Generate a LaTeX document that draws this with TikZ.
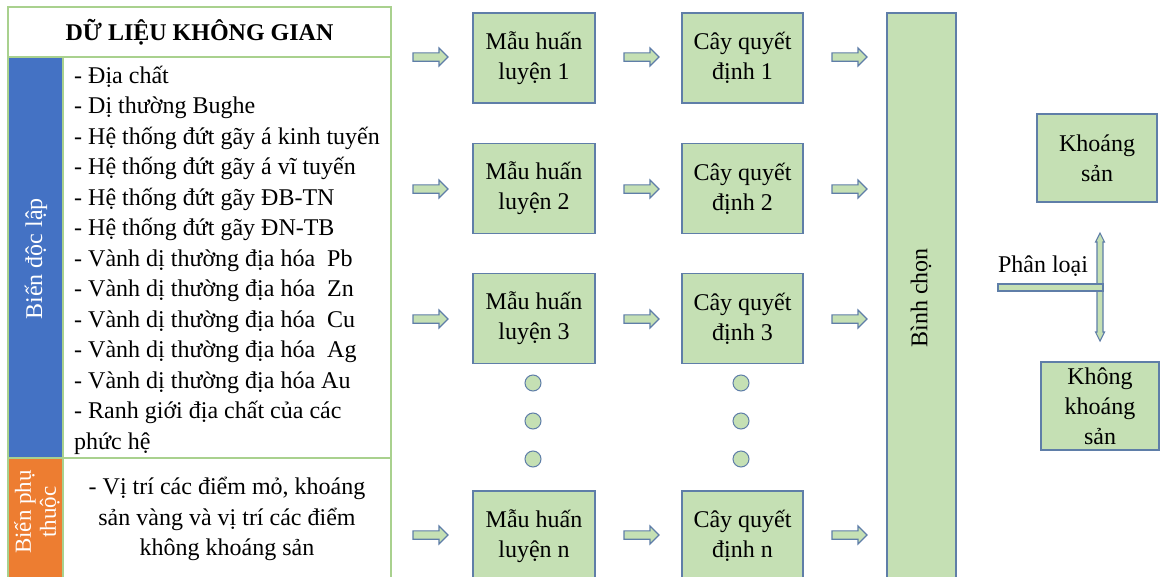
\documentclass[tikz,border=0pt]{standalone}
\usepackage{fontspec}
\setmainfont{Liberation Serif}
\definecolor{boxfill}{HTML}{C5E0B4}
\definecolor{boxline}{HTML}{5F7EA8}
\definecolor{gridline}{HTML}{A9D18E}
\definecolor{bluecell}{HTML}{4472C4}
\definecolor{orangecell}{HTML}{ED7D31}
\begin{document}
\begin{tikzpicture}[x=1pt,y=-1pt,
  every node/.style={font=\fontsize{24}{30}\selectfont, text=black},
  cell/.style={draw=gridline, line width=1.5pt, inner sep=0pt, rectangle},
  gbox/.style={draw=boxline, fill=boxfill, line width=1.3pt, inner sep=0pt, align=center, minimum width=122pt, minimum height=90pt},
  dotc/.style={circle, draw=boxline, fill=boxfill, line width=1pt, minimum size=16pt, inner sep=0pt},
  arrshape/.style={draw=boxline, fill=boxfill, line width=1.1pt, line join=miter},
  listitem/.style={anchor=base west, inner sep=0pt},
  rarrow/.pic={\path[arrshape] (-17.5,-4.2) -- (8.5,-4.2) -- (8.5,-9) -- (17.5,0) -- (8.5,9) -- (8.5,4.2) -- (-17.5,4.2) -- cycle;}
]
\useasboundingbox (0,0) rectangle (1160,576);
\clip (0,0) rectangle (1160,576);
\fill[white] (0,0) rectangle (1160,576);

% left table
\node[cell, fill=white, minimum width=383pt, minimum height=50pt, font=\bfseries\fontsize{24}{30}\selectfont] (hdr) at (199.5,32) {DỮ LIỆU KHÔNG GIAN};
\node[cell, fill=bluecell, minimum width=55pt, minimum height=401pt] (indep) at (35.5,257.5) {};
\node[cell, fill=white, minimum width=328pt, minimum height=401pt] (list) at (227,257.5) {};
\node[cell, fill=orangecell, minimum width=55pt, minimum height=140pt] (dep) at (35.5,528) {};
\node[cell, fill=white, minimum width=328pt, minimum height=140pt] (deptext) at (227,528) {};

\node[rotate=90, text=white, inner sep=0pt] (indeplabel) at (36,259) {Biến độc lập};
\node[rotate=90, text=white, inner sep=0pt, align=center, font=\fontsize{23}{25}\selectfont] (deplabel) at (37,512) {Biến phụ\\thuộc};

\node[listitem] (l1) at (74,83) {- Địa chất};
\node[listitem] (l2) at (74,113.5) {- Dị thường Bughe};
\node[listitem] (l3) at (74,144) {- Hệ thống đứt gãy á kinh tuyến};
\node[listitem] (l4) at (74,174.5) {- Hệ thống đứt gãy á vĩ tuyến};
\node[listitem] (l5) at (74,205) {- Hệ thống đứt gãy ĐB-TN};
\node[listitem] (l6) at (74,235.5) {- Hệ thống đứt gãy ĐN-TB};
\node[listitem] (l7) at (74,266) {- Vành dị thường địa hóa\ \ Pb};
\node[listitem] (l8) at (74,296.5) {- Vành dị thường địa hóa\ \ Zn};
\node[listitem] (l9) at (74,327) {- Vành dị thường địa hóa\ \ Cu};
\node[listitem] (l10) at (74,357.5) {- Vành dị thường địa hóa\ \ Ag};
\node[listitem] (l11) at (74,388) {- Vành dị thường địa hóa Au};
\node[listitem] (l12) at (74,418.5) {- Ranh giới địa chất của các};
\node[listitem] (l13) at (74,449) {phức hệ};

\node[align=center, inner sep=0pt, font=\fontsize{24}{30.5}\selectfont] (deptxt) at (227,519) {- Vị trí các điểm mỏ, khoáng\\sản vàng và vị trí các điểm\\không khoáng sản};

% training samples and trees
\node[gbox] (m1) at (534,58) {Mẫu huấn\\luyện 1};
\node[gbox] (m2) at (534,188.5) {Mẫu huấn\\luyện 2};
\node[gbox] (m3) at (534,318.5) {Mẫu huấn\\luyện 3};
\node[gbox] (mn) at (534,536) {Mẫu huấn\\luyện n};
\node[gbox, minimum width=121pt] (c1) at (742.5,58) {Cây quyết\\định 1};
\node[gbox, minimum width=121pt] (c2) at (742.5,188.5) {Cây quyết\\định 2};
\node[gbox, minimum width=121pt] (c3) at (742.5,318.5) {Cây quyết\\định 3};
\node[gbox, minimum width=121pt] (cn) at (742.5,536) {Cây quyết\\định n};

\foreach \yy/\nm in {383/a,421/b,459/c}{
  \node[dotc] (md\nm) at (533,\yy) {};
  \node[dotc] (cd\nm) at (741,\yy) {};
}

% vote box
\node[gbox, minimum width=69pt, minimum height=600pt] (vote) at (921.5,313) {};
\node[rotate=90, inner sep=0pt] (votetext) at (921,298) {Bình chọn};

% arrows
\foreach \yy in {57,189,319,535}{
  \pic at (430.5,\yy) {rarrow};
  \pic at (641.5,\yy) {rarrow};
  \pic at (849.5,\yy) {rarrow};
}

% classification
\node[gbox, minimum width=120pt, minimum height=88pt] (ks) at (1097,158) {Khoáng\\sản};
\node[gbox, minimum width=118pt, minimum height=88pt] (kks) at (1100,406) {Không\\khoáng\\sản};
\path[arrshape] (1100,233) -- (1104.5,242) -- (1103,242) -- (1103,332) -- (1104.5,332) -- (1100,341) -- (1095.5,332) -- (1097,332) -- (1097,242) -- (1095.5,242) -- cycle;
\path[arrshape] (998,284) rectangle (1103,291);
\node[inner sep=0pt] (pl) at (1043,266) {Phân loại};
\end{tikzpicture}
\end{document}
